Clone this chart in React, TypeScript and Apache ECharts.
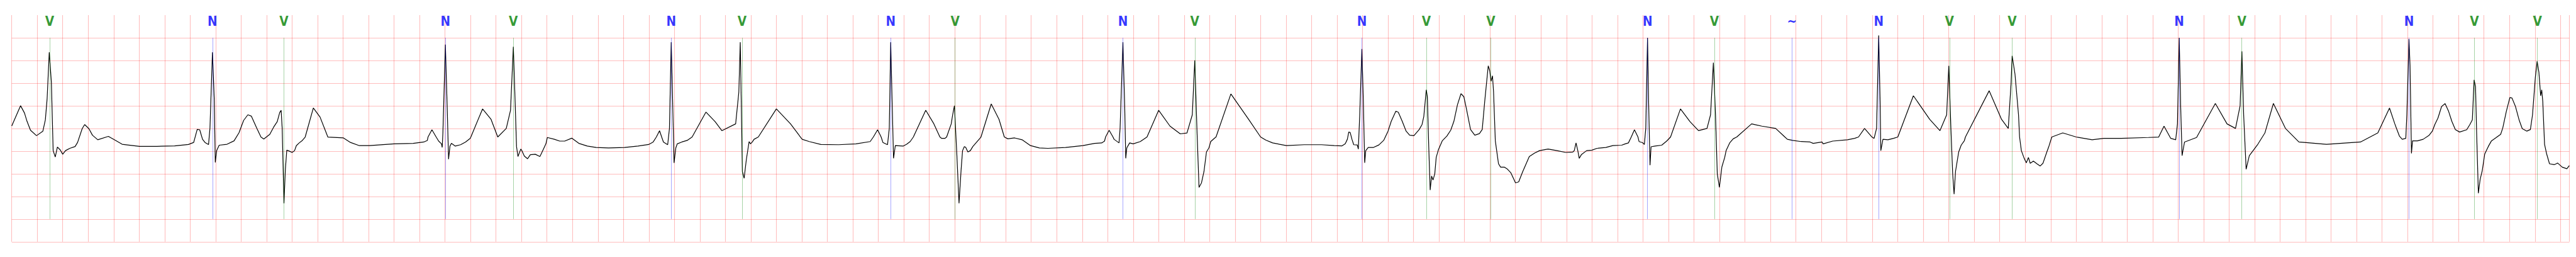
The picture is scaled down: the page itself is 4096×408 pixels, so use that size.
import { useEffect, useRef } from "react";
import * as echarts from "echarts";

// x: sample index (360 Hz), y: mV
const SAMPLE_MAX = 7225;
const GRID_SAMPLES = 72; // 0.2 s
const MV_MIN = -2.5;
const MV_MAX = 2.5;
const MV_STEP = 0.5;
const MARK_TOP = 2.0;
const MARK_BOTTOM = -2.0;

const annSamples = [107, 567, 769, 1225, 1417, 1863, 2063, 2483, 2665, 3139, 3342, 3814, 3996, 4178, 4621, 4810, 5029, 5274, 5474, 5651, 6123, 6300, 6772, 6957, 7135];
const annCodes = ["V", "N", "V", "N", "V", "N", "V", "N", "V", "N", "V", "N", "V", "V", "N", "V", "~", "N", "V", "V", "N", "V", "N", "V", "V"];

const seg1: [number, number][] = [
  [0, 0.055], [25, 0.5], [36, 0.34], [43, 0.16], [53, -0.04], [70, -0.16], [88, -0.06], [95, 0.19], [100, 0.66], [106, 1.68], [112, 1.02], [117, -0.49], [123, -0.63], [129, -0.41], [137, -0.475], [144, -0.57], [152, -0.49], [164, -0.44], [179, -0.4], [186, -0.31], [199, -0.005], [206, 0.085], [218, -0.005], [228, -0.15], [243, -0.25], [273, -0.175], [292, -0.26], [312, -0.35], [361, -0.395], [410, -0.395], [460, -0.385], [499, -0.355], [514, -0.31], [524, -0.02], [531, -0.03], [539, -0.24], [546, -0.31], [556, -0.355], [560, 0.01], [567, 1.68], [572, 0.66], [575, -0.75], [579, -0.49], [586, -0.37], [608, -0.35], [628, -0.275], [642, -0.095], [655, 0.175], [667, 0.3], [677, 0.27], [692, 0.01], [704, -0.19], [712, -0.235], [729, -0.13], [740, 0.03],
];
const seg2: [number, number][] = [
  [750, 0.15], [757, 0.35], [761, 0.4], [764, 0.0], [769, -1.65], [773, -0.9], [777, -0.48], [784, -0.5], [792, -0.53], [799, -0.49], [804, -0.38], [812, -0.32], [821, -0.265], [829, -0.19], [852, 0.45], [871, 0.25], [893, -0.19], [937, -0.21], [957, -0.31], [982, -0.38], [1011, -0.38], [1080, -0.34], [1134, -0.33], [1164, -0.3], [1174, -0.265], [1176, -0.19], [1187, -0.03], [1199, -0.19], [1206, -0.28], [1214, -0.34], [1216, -0.42], [1218, -0.1], [1225, 1.85], [1230, 0.5], [1234, -0.68], [1238, -0.39], [1242, -0.33], [1253, -0.39], [1268, -0.36], [1282, -0.3], [1295, -0.22], [1297, -0.19], [1330, 0.43], [1354, 0.2], [1373, -0.19], [1397, 0.0], [1409, 0.4], [1417, 1.8], [1422, 0.6], [1426, -0.4], [1430, -0.62], [1438, -0.455], [1441, -0.49], [1448, -0.61], [1457, -0.67], [1465, -0.58], [1479, -0.57], [1492, -0.62], [1497, -0.54], [1509, -0.34], [1513, -0.2],
];
const seg3: [number, number][] = [
  [1533, -0.24], [1548, -0.28], [1562, -0.28], [1582, -0.215], [1602, -0.33], [1626, -0.39], [1651, -0.42], [1686, -0.43], [1731, -0.42], [1769, -0.39], [1799, -0.355], [1812, -0.3], [1821, -0.19], [1830, -0.05], [1836, -0.19], [1841, -0.3], [1853, -0.36], [1858, 0.0], [1863, 1.9], [1867, 0.6], [1871, -0.76], [1876, -0.43], [1880, -0.34], [1893, -0.3], [1908, -0.265], [1922, -0.19], [1961, 0.36], [1987, 0.15], [2006, -0.05], [2045, 0.1], [2054, 0.8], [2058, 1.9], [2061, 0.5], [2064, -0.95], [2069, -1.1], [2075, -0.7], [2083, -0.29], [2087, -0.34], [2092, -0.3], [2097, -0.24], [2109, -0.19], [2160, 0.43], [2200, 0.1], [2228, -0.19], [2233, -0.24], [2253, -0.29], [2286, -0.355],
];
const seg4: [number, number][] = [
  [2336, -0.36], [2385, -0.34], [2425, -0.29], [2434, -0.19], [2446, -0.03], [2456, -0.19], [2461, -0.31], [2474, -0.36], [2479, 0.0], [2483, 1.9], [2487, 0.6], [2491, -0.66], [2496, -0.38], [2518, -0.39], [2528, -0.35], [2538, -0.29], [2547, -0.19], [2582, 0.4], [2605, 0.1], [2622, -0.19], [2627, -0.22], [2636, -0.22], [2641, -0.19], [2654, 0.1], [2658, 0.3], [2663, 0.5], [2670, -0.6], [2676, -1.65], [2682, -0.9], [2686, -0.49], [2691, -0.4], [2695, -0.42], [2701, -0.52], [2708, -0.49], [2715, -0.4], [2725, -0.31], [2735, -0.22], [2738, -0.19], [2767, 0.54], [2789, 0.2], [2804, -0.19], [2814, -0.23], [2833, -0.21], [2854, -0.25], [2878, -0.38], [2903, -0.43], [2927, -0.44], [2977, -0.42], [3026, -0.38], [3059, -0.33],
];
const seg5: [number, number][] = [
  [3079, -0.32], [3087, -0.28], [3090, -0.19], [3100, -0.04], [3111, -0.19], [3114, -0.24], [3128, -0.32], [3131, 0.0], [3139, 1.9], [3144, 0.5], [3147, -0.66], [3150, -0.43], [3158, -0.32], [3168, -0.34], [3188, -0.29], [3207, -0.19], [3240, 0.4], [3272, 0.05], [3301, -0.12], [3320, -0.1], [3335, 0.3], [3342, 1.5], [3348, 0.0], [3354, -1.3], [3361, -1.2], [3368, -0.95], [3375, -0.52], [3382, -0.43], [3387, -0.29], [3397, -0.22], [3402, -0.19], [3444, 0.76], [3494, 0.2], [3528, -0.19], [3543, -0.26], [3562, -0.32], [3601, -0.38], [3651, -0.36], [3700, -0.36], [3736, -0.378],
];
const seg6: [number, number][] = [
  [3758, -0.385], [3767, -0.34], [3773, -0.24], [3777, -0.08], [3781, -0.09], [3786, -0.24], [3791, -0.36], [3801, -0.365], [3804, -0.455], [3808, 0.3], [3814, 1.75], [3818, 0.66], [3822, -0.76], [3825, -0.49], [3832, -0.42], [3847, -0.42], [3862, -0.365], [3876, -0.26], [3888, -0.06], [3897, 0.157], [3910, 0.38], [3917, 0.355], [3928, 0.157], [3939, -0.06], [3949, -0.15], [3961, -0.16], [3976, -0.025], [3984, 0.085], [3989, 0.265], [3996, 0.85], [3999, 0.7], [4003, -0.42], [4007, -1.36], [4011, -1.05], [4015, -1.14], [4020, -1.0], [4024, -0.64], [4030, -0.475], [4041, -0.275], [4054, -0.17], [4065, -0.04], [4074, 0.157], [4084, 0.52], [4094, 0.765], [4102, 0.7], [4109, 0.447], [4121, -0.025], [4133, -0.15], [4146, -0.115], [4154, -0.025], [4161, 0.59], [4171, 1.38], [4175, 1.28], [4179, 1.04], [4183, 1.16], [4186, 0.81], [4191, -0.275], [4200, -0.78], [4206, -0.855], [4217, -0.855], [4224, -0.89], [4235, -0.98], [4248, -1.2], [4257, -1.18], [4268, -0.96], [4280, -0.745], [4287, -0.62], [4302, -0.545], [4316, -0.49],
];
const seg7: [number, number][] = [
  [4340, -0.455], [4365, -0.49], [4390, -0.53], [4410, -0.52], [4414, -0.49], [4419, -0.32], [4424, -0.49], [4428, -0.66], [4434, -0.58], [4449, -0.49], [4464, -0.48], [4478, -0.44], [4503, -0.42], [4523, -0.38], [4548, -0.37], [4558, -0.34], [4567, -0.32], [4575, -0.19], [4584, -0.03], [4594, -0.19], [4597, -0.29], [4607, -0.315], [4612, -0.355], [4616, 0.0], [4621, 2.0], [4624, 0.6], [4628, -0.81], [4631, -0.405], [4642, -0.39], [4661, -0.37], [4675, -0.28], [4686, -0.19], [4714, 0.43], [4741, 0.15], [4765, -0.05], [4789, 0.0], [4799, 0.3], [4807, 1.45], [4813, 0.3], [4818, -1.0], [4824, -1.3], [4831, -0.85], [4839, -0.64], [4843, -0.49], [4853, -0.32], [4863, -0.23], [4873, -0.19], [4915, 0.1], [4944, 0.05], [4983, 0.0], [5009, -0.19], [5016, -0.24], [5031, -0.265], [5055, -0.29], [5080, -0.3], [5089, -0.33],
];
const seg8: [number, number][] = [
  [5114, -0.3], [5117, -0.34], [5144, -0.28], [5186, -0.25], [5206, -0.22], [5217, -0.19], [5234, 0.0], [5255, -0.19], [5261, -0.22], [5268, 0.0], [5274, 2.05], [5278, 0.6], [5280, -0.49], [5286, -0.24], [5300, -0.25], [5316, -0.22], [5328, -0.19], [5372, 0.72], [5418, 0.2], [5447, -0.05], [5466, 0.3], [5472, 1.38], [5478, 0.0], [5483, -1.0], [5487, -1.45], [5491, -0.95], [5500, -0.52], [5507, -0.37], [5516, -0.27], [5519, -0.19], [5586, 0.83], [5621, 0.2], [5640, 0.0], [5648, 1.0], [5651, 1.6], [5659, 1.2], [5669, 0.3], [5672, -0.19], [5677, -0.49], [5685, -0.66], [5691, -0.76], [5697, -0.64], [5702, -0.77], [5711, -0.72], [5721, -0.78], [5730, -0.83], [5738, -0.77], [5749, -0.52], [5755, -0.39], [5763, -0.19], [5794, -0.1], [5832, -0.19], [5877, -0.25], [5910, -0.22], [5959, -0.22],
];
const seg9: [number, number][] = [
  [6036, -0.2], [6065, -0.19], [6080, 0.05], [6099, -0.22], [6113, -0.25], [6118, 0.1], [6123, 2.0], [6127, 0.5], [6131, -0.6], [6138, -0.3], [6172, -0.2], [6225, 0.55], [6258, 0.1], [6282, 0.0], [6295, 0.5], [6300, 1.7], [6305, 0.3], [6312, -0.9], [6321, -0.6], [6345, -0.35], [6365, -0.1], [6389, 0.55], [6423, 0.0], [6461, -0.3], [6539, -0.35], [6635, -0.3], [6684, -0.1], [6717, 0.45], [6732, 0.1],
];
const seg10: [number, number][] = [
  [6737, -0.005], [6745, -0.17], [6753, -0.24], [6763, -0.22], [6766, 0.3], [6772, 1.97], [6775, 1.39], [6778, -0.06], [6779, -0.55], [6782, -0.275], [6796, -0.275], [6812, -0.24], [6829, -0.15], [6838, -0.06], [6845, 0.085], [6854, 0.23], [6864, 0.48], [6874, 0.548], [6884, 0.375], [6893, 0.157], [6903, -0.025], [6915, -0.08], [6935, -0.03], [6944, 0.085], [6951, 0.19], [6956, 1.07], [6960, 0.92], [6963, -0.06], [6968, -1.43], [6973, -1.125], [6979, -0.93], [6986, -0.565], [6996, -0.4], [7005, -0.275], [7018, -0.205], [7031, -0.13], [7037, 0.01], [7047, 0.375], [7057, 0.68], [7063, 0.67], [7073, 0.48], [7083, 0.19], [7092, -0.005], [7105, -0.06], [7115, -0.025], [7121, 0.3], [7129, 1.13], [7134, 1.48], [7139, 1.24], [7144, 0.72], [7147, 0.85], [7150, 0.59], [7155, -0.35], [7161, -0.565], [7169, -0.78], [7182, -0.8], [7192, -0.765], [7205, -0.855], [7218, -0.89], [7225, -0.82],
];

const ecg = [...seg1, ...seg2, ...seg3, ...seg4, ...seg5, ...seg6, ...seg7, ...seg8, ...seg9, ...seg10];

const codeColor: Record<string, string> = { N: "#0000ff", V: "#008000", "~": "#0000ff" };
const codeLine: Record<string, string> = { N: "rgba(0,0,255,0.5)", V: "rgba(0,128,0,0.5)", "~": "rgba(0,0,255,0.5)" };

export default function App() {
  const ref = useRef<HTMLDivElement>(null);
  useEffect(() => {
    const chart = echarts.init(ref.current!, null, { renderer: "svg" });
    const gridLine = { show: true, lineStyle: { color: "rgba(255,0,0,0.26)", width: 1.1 } };
    chart.setOption({
      animation: false,
      grid: { left: 18.66, right: 10.6, top: 23.9, bottom: 24.2, containLabel: false },
      xAxis: {
        type: "value", min: 0, max: SAMPLE_MAX, interval: GRID_SAMPLES,
        axisLine: { show: false }, axisTick: { show: false }, axisLabel: { show: false },
        splitLine: gridLine,
      },
      yAxis: {
        type: "value", min: MV_MIN, max: MV_MAX, interval: MV_STEP,
        axisLine: { show: false }, axisTick: { show: false }, axisLabel: { show: false },
        splitLine: { ...gridLine, showMaxLine: false },
      },
      series: [
        {
          type: "line",
          data: ecg,
          showSymbol: false,
          symbol: "none",
          silent: true,
          z: 3,
          lineStyle: { color: "#000", width: 1.2 },
          markLine: {
            silent: true,
            symbol: ["none", "none"],
            label: { show: false },
            data: annSamples.map((s, i) => [
              { coord: [s, MARK_TOP], lineStyle: { color: codeLine[annCodes[i]], width: 0.7, type: "solid" } },
              { coord: [s, MARK_BOTTOM] },
            ]),
          },
        },
        {
          type: "scatter",
          symbolSize: 0,
          silent: true,
          clip: false,
          data: annSamples.map((s, i) => ({
            value: [s, MV_MAX],
            label: { color: codeColor[annCodes[i]] },
          })),
          label: {
            show: true,
            position: "bottom",
            distance: 0,
            formatter: (p: any) => annCodes[p.dataIndex],
            fontFamily: "'Liberation Sans Narrow', 'DejaVu Sans Condensed', sans-serif",
            fontWeight: "bold",
            fontSize: 20.7,
          },
        },
      ],
    });
    return () => chart.dispose();
  }, []);
  return <div ref={ref} style={{ position: "absolute", left: 0, top: 0, width: 4096, height: 408 }} />;
}
